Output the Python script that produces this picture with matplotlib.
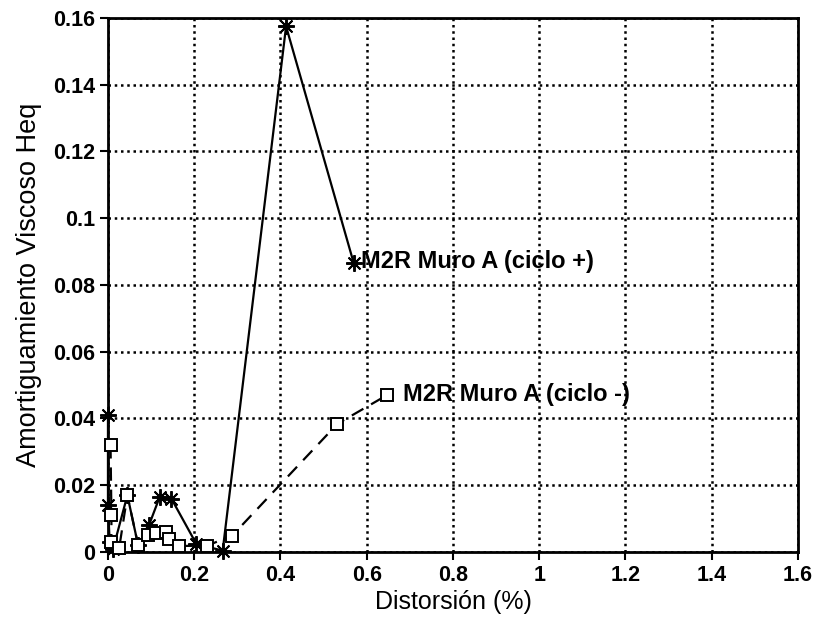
import matplotlib
matplotlib.use("Agg")
import matplotlib.pyplot as plt

# Ciclo positivo (asteriscos, linea continua)
dist_pos = [0.0, 0.0, 0.004, 0.012, 0.045, 0.07, 0.095, 0.12, 0.147, 0.205, 0.266, 0.413, 0.57]
heq_pos = [0.041, 0.014, 0.003, 0.001, 0.017, 0.002, 0.008, 0.0165, 0.016, 0.0024, 0.0004, 0.1575, 0.0865]

# Ciclo negativo (cuadrados, linea discontinua)
dist_neg = [0.006, 0.008, 0.008, 0.026, 0.045, 0.07, 0.093, 0.112, 0.135, 0.141, 0.165, 0.23, 0.288, 0.532, 0.647]
heq_neg = [0.032, 0.011, 0.003, 0.0012, 0.017, 0.002, 0.005, 0.0058, 0.006, 0.004, 0.0018, 0.0019, 0.0049, 0.0384, 0.047]

label_pos = "M2R Muro A (ciclo +)"
label_neg = "M2R Muro A (ciclo -)"

xticks = [0, 0.2, 0.4, 0.6, 0.8, 1.0, 1.2, 1.4, 1.6]
xticklabels = ["0", "0.2", "0.4", "0.6", "0.8", "1", "1.2", "1.4", "1.6"]
yticks = [0, 0.02, 0.04, 0.06, 0.08, 0.1, 0.12, 0.14, 0.16]
yticklabels = ["0", "0.02", "0.04", "0.06", "0.08", "0.1", "0.12", "0.14", "0.16"]

plt.rcParams["font.family"] = ["Liberation Sans", "DejaVu Sans"]

fig = plt.figure(figsize=(8.21, 6.2), dpi=100)
ax = fig.add_axes([0.1315, 0.1097, 0.8405, 0.8613])

ax.plot(dist_pos, heq_pos, color="black", linewidth=1.6, linestyle="-",
        marker=(8, 2, 0), markersize=12, markeredgewidth=1.4, zorder=3, clip_on=False)
ax.plot(dist_neg, heq_neg, color="black", linewidth=1.6, linestyle=(0, (6, 4)),
        marker="s", markersize=9, markerfacecolor="white", markeredgecolor="black",
        markeredgewidth=1.4, zorder=4, clip_on=False)

ax.text(dist_pos[-1] + 0.017, heq_pos[-1] + 0.0005, label_pos, fontsize=17,
        fontweight="bold", va="center", ha="left")
ax.text(dist_neg[-1] + 0.036, heq_neg[-1] + 0.0003, label_neg, fontsize=17,
        fontweight="bold", va="center", ha="left")

ax.set_xlim(0, 1.6)
ax.set_ylim(0, 0.16)
ax.set_xticks(xticks)
ax.set_xticklabels(xticklabels)
ax.set_yticks(yticks)
ax.set_yticklabels(yticklabels)

ax.grid(True, color="black", linestyle=(0, (1.0, 1.5)), linewidth=1.8)
ax.set_axisbelow(True)

for side in ax.spines.values():
    side.set_linewidth(2.0)

ax.tick_params(axis="both", direction="out", length=6, width=1.5, labelsize=15.5,
               top=False, right=False)
for lbl in ax.get_xticklabels() + ax.get_yticklabels():
    lbl.set_fontweight("bold")

ax.set_xlabel("Distorsión (%)", fontsize=18, labelpad=3)
ax.set_ylabel("Amortiguamiento Viscoso Heq", fontsize=19.5, labelpad=8)

fig.savefig("out.png", dpi=100)
